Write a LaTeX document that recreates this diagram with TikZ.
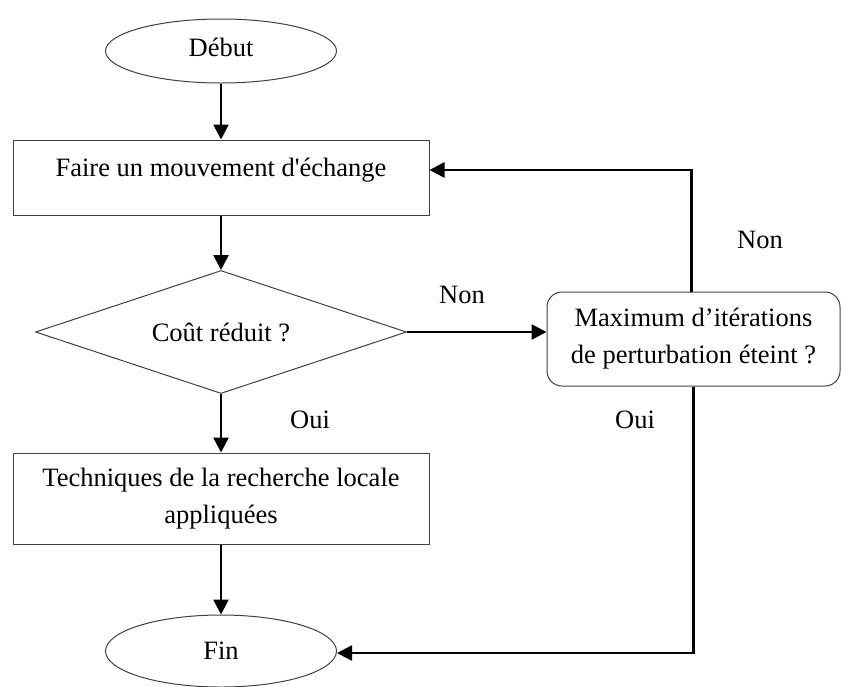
\documentclass[tikz,border=0pt]{standalone}
\usepackage{fontspec}
\setmainfont{Liberation Serif}[Ligatures=TeXOff]
\usetikzlibrary{shapes.geometric,arrows.meta}
\begin{document}
\begin{tikzpicture}[x=1pt,y=-1pt,
  every node/.style={font=\fontsize{26.5}{37}\selectfont},
  shp/.style={draw=black!75,line width=1pt},
  term/.style={shp,ellipse,minimum width=231pt,minimum height=64pt,inner sep=0pt},
  procbox/.style={shp,rectangle,minimum width=416pt,inner sep=0pt,align=center},
  decis/.style={shp,diamond,aspect=3,minimum width=371pt,minimum height=123pt,inner sep=0pt},
  roundbox/.style={shp,rectangle,rounded corners=15pt,minimum width=293pt,minimum height=94pt,inner sep=0pt,align=center},
  flow/.style={line width=2.6pt,-{Triangle[length=15pt,width=15pt]}},
  lbl/.style={inner sep=0pt}]
\useasboundingbox (0,0) rectangle (842,686);
\node[term,label={[lbl,yshift=4pt]center:Début}] (debut) at (221,51) {};
\node[procbox,minimum height=75pt,label={[lbl,yshift=7pt]center:Faire un mouvement d'échange}] (r1) at (221,177.5) {};
\node[decis] (dia) at (221,332) {Coût réduit ?};
\node[procbox,minimum height=91pt] (r2) at (221,498.5) {Techniques de la recherche locale\\appliquées};
\node[term,minimum height=72pt] (fin) at (221,651) {Fin};
\node[roundbox] (rr) at (693.5,339) {Maximum d’itérations\\de perturbation éteint ?};
\node[lbl] (non1) at (462,295) {Non};
\node[lbl] (non2) at (760,240) {Non};
\node[lbl] (oui1) at (310,420) {Oui};
\node[lbl] (oui2) at (635,420) {Oui};
\draw[flow] (debut) -- (r1);
\draw[flow] (r1) -- (dia);
\draw[flow] (dia) -- (r2);
\draw[flow] (r2) -- (fin);
\draw[flow] (dia.east) -- (dia.east -| rr.west);
\draw[flow] ([xshift=-2pt]rr.north) |- ([yshift=7.5pt]r1.east);
\draw[flow] (rr.south) |- ([yshift=-2pt]fin.east);
\end{tikzpicture}
\end{document}
